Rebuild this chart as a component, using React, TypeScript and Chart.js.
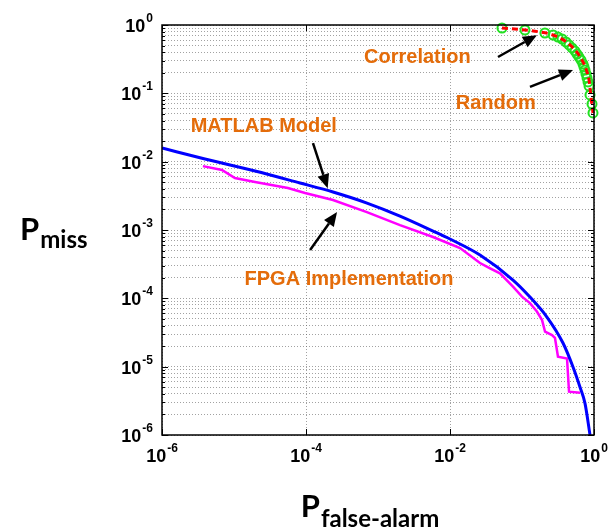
import React, { useEffect, useRef } from 'react';
import { Chart, registerables } from 'chart.js';

Chart.register(...registerables);

// ---- Data ----
const matlabPfa = [1e-6, 3.95e-6, 1.96e-5, 8.26e-5, 2.37e-4, 7.03e-4, 2.02e-3, 5.81e-3, 1e-2, 2.61e-2, 7.5e-2, 0.129, 0.222, 0.371, 0.511, 0.64, 0.75, 0.88];
const matlabPmiss = [1.585e-2, 1.094e-2, 7.3e-3, 4.87e-3, 3.6e-3, 2.48e-3, 1.6e-3, 9.66e-4, 7.38e-4, 4.3e-4, 1.85e-4, 1.045e-4, 5.33e-5, 2.22e-5, 9.9e-6, 5.0e-6, 2.9e-6, 1e-6];

const fpgaPfa = [3.7e-6, 6.8e-6, 1.03e-5, 1.96e-5, 5.6e-5, 9.7e-5, 2.37e-4, 7.0e-4, 2.02e-3, 5.81e-3, 1.38e-2, 2.61e-2, 3.6e-2, 4.94e-2, 7.5e-2, 0.1, 0.129, 0.161, 0.19, 0.209, 0.261, 0.287, 0.316, 0.422, 0.45, 0.64];
const fpgaPmiss = [8.6e-3, 7.55e-3, 5.77e-3, 5.04e-3, 4.12e-3, 3.48e-3, 2.75e-3, 1.83e-3, 1.18e-3, 7.9e-4, 5.45e-4, 3.29e-4, 2.75e-4, 2.32e-4, 1.48e-4, 1.06e-4, 8.5e-5, 6.4e-5, 4.8e-5, 3.25e-5, 2.9e-5, 2.63e-5, 1.4e-5, 1.32e-5, 4.3e-6, 4.16e-6];

const randomPfa = [0.0527, 0.11, 0.178, 0.245, 0.316, 0.396, 0.464, 0.545, 0.619, 0.681, 0.75, 0.8, 0.853, 0.88, 0.908, 0.938, 0.968];
const randomPmiss = [0.904, 0.845, 0.79, 0.738, 0.667, 0.583, 0.51, 0.43, 0.364, 0.307, 0.251, 0.205, 0.157, 0.12, 0.088, 0.0675, 0.0516];

const corrPfa = [0.0527, 0.11, 0.208, 0.27, 0.316, 0.36, 0.408, 0.45, 0.495, 0.545, 0.581, 0.619, 0.66, 0.703, 0.726, 0.75, 0.774, 0.8, 0.826, 0.853, 0.88, 0.938, 0.968];
const corrPmiss = [0.904, 0.845, 0.764, 0.714, 0.667, 0.624, 0.564, 0.51, 0.461, 0.416, 0.376, 0.34, 0.307, 0.269, 0.243, 0.219, 0.192, 0.168, 0.147, 0.128, 0.0946, 0.0698, 0.0516];

const xTickExps = [-6, -4, -2, 0];
const yTickExps = [-6, -5, -4, -3, -2, -1, 0];
const minorMultipliers = [1, 2, 3, 4, 5, 6, 7, 8, 9];

const annotationTexts = ['MATLAB Model', 'FPGA Implementation', 'Correlation', 'Random'];
const annotationX = [2.5e-6, 1.4e-5, 6.4e-4, 1.2e-2];
const annotationY = [3.3e-2, 1.9e-4, 0.34, 0.07];

const arrowFromX = [1.25e-4, 1.14e-4, 0.0464, 0.129];
const arrowFromY = [1.87e-2, 5.1e-4, 0.34, 0.124];
const arrowToX = [2.0e-4, 2.7e-4, 0.161, 0.511];
const arrowToY = [4.1e-3, 1.83e-3, 0.71, 0.22];

const toPts = (xs: number[], ys: number[]) => xs.map((x, i) => ({ x, y: ys[i] }));

const TICK_FONT = '"Liberation Sans", Arial, sans-serif';
const TITLE_FONT = 'Lato, "Open Sans", sans-serif';
const ORANGE = '#E46C0A';

function drawPow(ctx: CanvasRenderingContext2D, exp: number, x: number, baseY: number, align: 'center' | 'right') {
  const base = '10';
  const sup = String(exp);
  ctx.font = `bold 18px ${TICK_FONT}`;
  const wb = ctx.measureText(base).width;
  ctx.font = `bold 12px ${TICK_FONT}`;
  const ws = ctx.measureText(sup).width;
  const total = wb + 1 + ws;
  const x0 = align === 'center' ? x - total / 2 : x - total;
  ctx.textAlign = 'left';
  ctx.textBaseline = 'alphabetic';
  ctx.fillStyle = '#000';
  ctx.font = `bold 18px ${TICK_FONT}`;
  ctx.fillText(base, x0, baseY);
  ctx.font = `bold 12px ${TICK_FONT}`;
  ctx.fillText(sup, x0 + wb + 1, baseY - 10);
}

const decorPlugin = {
  id: 'decor',
  afterDraw(chart: any) {
    const { ctx, chartArea, scales } = chart;
    const xs = scales.x;
    const ys = scales.y;
    const { left, right, top, bottom } = chartArea;
    ctx.save();

    // box
    ctx.strokeStyle = '#000';
    ctx.lineWidth = 1.5;
    ctx.setLineDash([]);
    ctx.strokeRect(left, top, right - left, bottom - top);

    // inner ticks y
    ctx.lineWidth = 1;
    ys.ticks.forEach((t: any) => {
      const v = t.value;
      const lg = Math.log10(v);
      const major = Math.abs(lg - Math.round(lg)) < 1e-9;
      const len = major ? 6 : 3;
      const py = Math.round(ys.getPixelForValue(v)) + 0.5;
      ctx.beginPath();
      ctx.moveTo(left, py); ctx.lineTo(left + len, py);
      ctx.moveTo(right, py); ctx.lineTo(right - len, py);
      ctx.stroke();
    });
    // inner ticks x
    xs.ticks.forEach((t: any) => {
      const px = Math.round(xs.getPixelForValue(t.value)) + 0.5;
      ctx.beginPath();
      ctx.moveTo(px, bottom); ctx.lineTo(px, bottom - 6);
      ctx.moveTo(px, top); ctx.lineTo(px, top + 6);
      ctx.stroke();
    });

    // tick labels
    xTickExps.forEach((e) => {
      const px = xs.getPixelForValue(Math.pow(10, e));
      drawPow(ctx, e, px, bottom + 27, 'center');
    });
    yTickExps.forEach((e) => {
      const py = ys.getPixelForValue(Math.pow(10, e));
      drawPow(ctx, e, left - 9, py + 7, 'right');
    });

    // axis titles
    ctx.fillStyle = '#000';
    ctx.textAlign = 'left';
    ctx.textBaseline = 'alphabetic';
    ctx.font = `bold 31px ${TITLE_FONT}`;
    const wP = ctx.measureText('P').width;
    ctx.fillText('P', 20, 240);
    ctx.font = `bold 24px ${TITLE_FONT}`;
    ctx.fillText('miss', 20 + wP + 1, 248);

    ctx.font = `bold 24px ${TITLE_FONT}`;
    const wSub = ctx.measureText('false-alarm').width;
    const cx = (left + right) / 2 - 8;
    const startX = cx - (wP + 1 + wSub) / 2;
    ctx.font = `bold 31px ${TITLE_FONT}`;
    ctx.fillText('P', startX, 517);
    ctx.font = `bold 24px ${TITLE_FONT}`;
    ctx.fillText('false-alarm', startX + wP + 1, 527);

    // annotation texts
    ctx.fillStyle = ORANGE;
    ctx.font = `bold 20px ${TICK_FONT}`;
    ctx.textBaseline = 'middle';
    annotationTexts.forEach((txt, i) => {
      ctx.fillText(txt, xs.getPixelForValue(annotationX[i]), ys.getPixelForValue(annotationY[i]));
    });

    // arrows
    ctx.strokeStyle = '#000';
    ctx.fillStyle = '#000';
    ctx.lineWidth = 2.5;
    arrowFromX.forEach((_, i) => {
      const x1 = xs.getPixelForValue(arrowFromX[i]);
      const y1 = ys.getPixelForValue(arrowFromY[i]);
      const x2 = xs.getPixelForValue(arrowToX[i]);
      const y2 = ys.getPixelForValue(arrowToY[i]);
      const ang = Math.atan2(y2 - y1, x2 - x1);
      const hl = 14, hw = 6;
      const bx = x2 - hl * Math.cos(ang);
      const by = y2 - hl * Math.sin(ang);
      ctx.beginPath();
      ctx.moveTo(x1, y1);
      ctx.lineTo(bx, by);
      ctx.stroke();
      ctx.beginPath();
      ctx.moveTo(x2, y2);
      ctx.lineTo(bx + hw * Math.sin(ang), by - hw * Math.cos(ang));
      ctx.lineTo(bx - hw * Math.sin(ang), by + hw * Math.cos(ang));
      ctx.closePath();
      ctx.fill();
    });

    ctx.restore();
  },
};

export default function App() {
  const canvasRef = useRef<HTMLCanvasElement | null>(null);

  useEffect(() => {
    const canvas = canvasRef.current;
    if (!canvas) return;
    const gridCommon = {
      display: true,
      drawTicks: false,
      color: 'rgba(100,100,100,0.6)',
      lineWidth: 1,
    };
    const chart = new Chart(canvas, {
      type: 'line',
      data: {
        datasets: [
          {
            label: 'Random',
            data: toPts(randomPfa, randomPmiss),
            borderColor: '#ff0000',
            borderWidth: 3,
            borderDash: [6, 4],
            pointRadius: 0,
            fill: false,
            cubicInterpolationMode: 'monotone',
            clip: false,
            order: 0,
          },
          {
            label: 'Correlation',
            data: toPts(corrPfa, corrPmiss),
            showLine: false,
            pointRadius: 4.5,
            pointBorderWidth: 2,
            pointBorderColor: '#22e022',
            pointBackgroundColor: 'rgba(0,0,0,0)',
            borderColor: '#22e022',
            clip: false,
            order: 1,
          },
          {
            label: 'MATLAB Model',
            data: toPts(matlabPfa, matlabPmiss),
            borderColor: '#0000ff',
            borderWidth: 3,
            pointRadius: 0,
            fill: false,
            cubicInterpolationMode: 'monotone',
            order: 2,
          },
          {
            label: 'FPGA Implementation',
            data: toPts(fpgaPfa, fpgaPmiss),
            borderColor: '#ff00ff',
            borderWidth: 2.5,
            pointRadius: 0,
            fill: false,
            order: 3,
          },
        ],
      },
      options: {
        animation: false,
        responsive: false,
        events: [],
        layout: { padding: { left: 162, right: 19, top: 25, bottom: 96 } },
        plugins: { legend: { display: false }, tooltip: { enabled: false } },
        scales: {
          x: {
            type: 'logarithmic',
            min: 1e-6,
            max: 1,
            ticks: { display: false },
            grid: gridCommon,
            border: { display: false, dash: [1, 2] },
            afterBuildTicks: (s: any) => {
              s.ticks = xTickExps.map((e) => ({ value: Math.pow(10, e) }));
            },
          },
          y: {
            type: 'logarithmic',
            min: 1e-6,
            max: 1,
            ticks: { display: false },
            grid: gridCommon,
            border: { display: false, dash: [1, 2] },
            afterBuildTicks: (s: any) => {
              const t: { value: number }[] = [];
              yTickExps.forEach((e) => {
                if (e === 0) { t.push({ value: 1 }); return; }
                minorMultipliers.forEach((m) => t.push({ value: m * Math.pow(10, e) }));
              });
              s.ticks = t;
            },
          },
        },
      } as any,
      plugins: [decorPlugin],
    });
    return () => chart.destroy();
  }, []);

  return (
    <div style={{ position: 'absolute', left: 0, top: 0, width: 613, height: 531, background: '#fff' }}>
      <canvas ref={canvasRef} width={613} height={531} style={{ display: 'block' }} />
    </div>
  );
}
